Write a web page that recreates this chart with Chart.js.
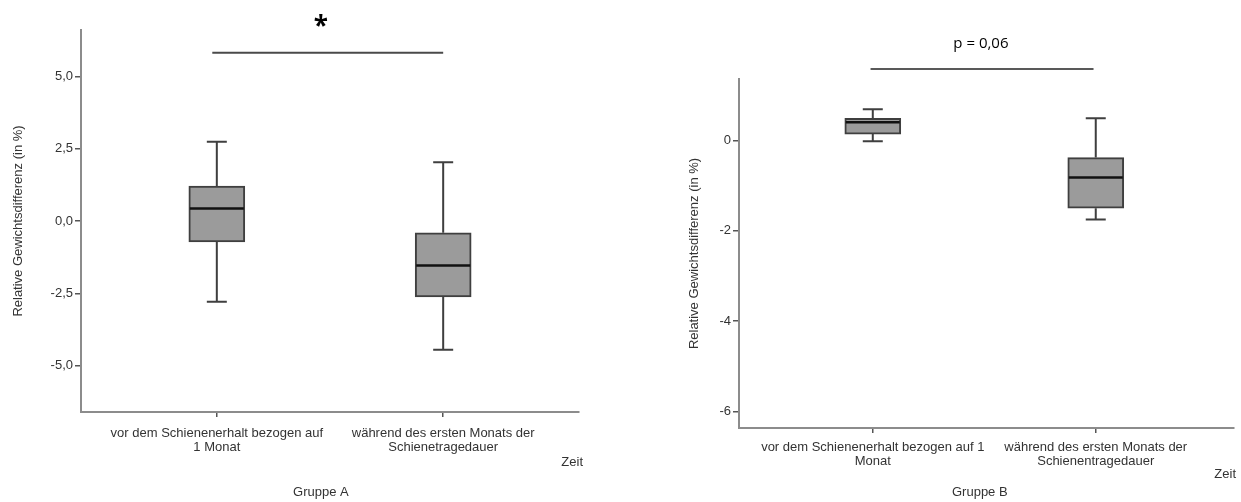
<!DOCTYPE html>
<html lang="de">
<head>
<meta charset="utf-8">
<title>Relative Gewichtsdifferenz – Gruppe A und B</title>
<script src="https://cdn.jsdelivr.net/npm/chart.js@4.4.1/dist/chart.umd.min.js"></script>
<style>
  html, body { margin: 0; padding: 0; background: #fff; }
  #wrap { position: relative; width: 1241px; height: 502px; overflow: hidden; }
  #wrap canvas { position: absolute; top: 0; }
  #chart-a { left: 0; }
  #chart-b { left: 620px; }
</style>
</head>
<body>
<div id="wrap">
  <canvas id="chart-a" width="620" height="502"></canvas>
  <canvas id="chart-b" width="621" height="502"></canvas>
</div>
<script>
(function () {
  // ===== DATA =====
  const LABELS_A = [['vor dem Schienenerhalt bezogen auf', '1 Monat'], ['während des ersten Monats der', 'Schienetragedauer']];
  const LABELS_B = [['vor dem Schienenerhalt bezogen auf 1', 'Monat'], ['während des ersten Monats der', 'Schienentragedauer']];

  // Group A box plot stats (relative weight difference, %)
  const MIN_A = [-2.79, -4.45];
  const Q1_A = [-0.72, -2.62];
  const MEDIAN_A = [0.43, -1.54];
  const Q3_A = [1.21, -0.41];
  const MAX_A = [2.74, 2.03];

  // Group B box plot stats
  const MIN_B = [-0.02, -1.75];
  const Q1_B = [0.14, -1.50];
  const MEDIAN_B = [0.40, -0.82];
  const Q3_B = [0.49, -0.38];
  const MAX_B = [0.69, 0.49];

  const TICKS_A = [-5, -2.5, 0, 2.5, 5];
  const TICKS_B = [-6, -4, -2, 0];

  const TEXT = '#333';
  const AXIS = '#8c8c8c';
  const TICK_MARK = '#555';
  const BOX_FILL = '#9b9b9b';
  const BOX_LINE = '#3f3f3f';
  const FONT = '"Liberation Sans", Arial, sans-serif';

  Chart.defaults.font.family = FONT;
  Chart.defaults.font.size = 13;
  Chart.defaults.color = TEXT;

  // Whiskers, caps and median line drawn on top of the floating bars
  const boxWhiskers = {
    id: 'boxWhiskers',
    afterDatasetsDraw(chart, args, opts) {
      const { ctx } = chart;
      const xs = chart.scales.x, ys = chart.scales.y;
      const meta = chart.getDatasetMeta(0);
      ctx.save();
      opts.min.forEach((lo, i) => {
        const cx = xs.getPixelForValue(i + 1);
        const half = meta.data[i].width / 2;
        const cap = opts.capWidth / 2;
        const yMin = ys.getPixelForValue(lo);
        const yMax = ys.getPixelForValue(opts.max[i]);
        ctx.strokeStyle = BOX_LINE;
        ctx.lineWidth = 2;
        ctx.beginPath();
        ctx.moveTo(cx, ys.getPixelForValue(opts.q3[i])); ctx.lineTo(cx, yMax);
        ctx.moveTo(cx, ys.getPixelForValue(opts.q1[i])); ctx.lineTo(cx, yMin);
        ctx.moveTo(cx - cap, yMax); ctx.lineTo(cx + cap, yMax);
        ctx.moveTo(cx - cap, yMin); ctx.lineTo(cx + cap, yMin);
        ctx.stroke();

        const ym = ys.getPixelForValue(opts.median[i]);
        ctx.strokeStyle = '#111';
        ctx.lineWidth = 2.5;
        ctx.beginPath();
        ctx.moveTo(cx - half + 1, ym); ctx.lineTo(cx + half - 1, ym);
        ctx.stroke();
      });
      ctx.restore();
    },
  };

  // Significance bracket over both boxes, the "Zeit" axis note and the group caption
  const extras = {
    id: 'extras',
    afterDraw(chart, args, opts) {
      const { ctx, chartArea } = chart;
      const xs = chart.scales.x, ys = chart.scales.y;
      const b = opts.bracket;
      const x1 = xs.getPixelForValue(b.from);
      const x2 = xs.getPixelForValue(b.to);
      const yb = ys.getPixelForValue(b.value);
      ctx.save();
      ctx.strokeStyle = b.color;
      ctx.lineWidth = b.width;
      ctx.beginPath();
      ctx.moveTo(x1, yb); ctx.lineTo(x2, yb);
      ctx.stroke();

      ctx.fillStyle = '#000';
      ctx.font = b.font;
      ctx.textAlign = 'center';
      ctx.textBaseline = 'middle';
      ctx.fillText(b.label, xs.getPixelForValue(b.labelAt), yb - b.gap);

      ctx.fillStyle = TEXT;
      ctx.font = '13px ' + FONT;
      ctx.textAlign = 'right';
      ctx.fillText('Zeit', chartArea.right + opts.zeitDx, chartArea.bottom + opts.zeitDy);

      ctx.textAlign = 'center';
      ctx.fillText(opts.group, xs.getPixelForValue(opts.groupAt), chart.height - 10);
      ctx.restore();
    },
  };

  function buildChart(canvasId, cfg) {
    const data = cfg.q1.map((v, i) => ({ x: i + 1, y: [v, cfg.q3[i]] }));
    return new Chart(document.getElementById(canvasId), {
      type: 'bar',
      data: {
        datasets: [{
          data,
          backgroundColor: BOX_FILL,
          borderColor: BOX_LINE,
          borderWidth: 2,
          borderSkipped: false,
          barThickness: 56,
        }],
      },
      options: {
        responsive: false,
        animation: false,
        events: [],
        layout: { padding: cfg.padding },
        plugins: {
          legend: { display: false },
          tooltip: { enabled: false },
          boxWhiskers: { min: cfg.min, q1: cfg.q1, median: cfg.median, q3: cfg.q3, max: cfg.max, capWidth: 20 },
          extras: { bracket: cfg.bracket, zeitDx: cfg.zeitDx, zeitDy: cfg.zeitDy, group: cfg.group, groupAt: cfg.groupAt },
        },
        scales: {
          x: {
            type: 'linear',
            min: 0.4,
            max: cfg.xMax,
            offset: false,
            afterFit: s => { s.height = cfg.xHeight; },
            afterBuildTicks: s => { s.ticks = [{ value: 1 }, { value: 2 }]; },
            border: { display: true, color: AXIS, width: 2 },
            grid: { offset: false, drawOnChartArea: false, drawTicks: true, tickLength: 5, color: TICK_MARK, lineWidth: 1.5 },
            ticks: {
              padding: cfg.xTickPad,
              maxRotation: 0,
              autoSkip: false,
              color: TEXT,
              font: { size: 13, lineHeight: 1.08 },
              callback: v => cfg.labels[v - 1],
            },
          },
          y: {
            type: 'linear',
            min: cfg.yMin,
            max: cfg.yMax,
            afterFit: s => { s.width = cfg.yWidth; },
            afterBuildTicks: s => { s.ticks = cfg.ticks.map(v => ({ value: v })); },
            border: { display: true, color: AXIS, width: 2 },
            grid: { drawOnChartArea: false, drawTicks: true, tickLength: 6, color: TICK_MARK, lineWidth: 1.5 },
            ticks: { padding: 2, color: TEXT, font: { size: 13 }, callback: cfg.fmt },
            title: {
              display: true,
              text: 'Relative Gewichtsdifferenz (in %)',
              color: TEXT,
              font: { size: 13 },
              padding: { top: cfg.yTitlePad, bottom: 0 },
            },
          },
        },
      },
      plugins: [boxWhiskers, extras],
    });
  }

  buildChart('chart-a', {
    labels: LABELS_A, group: 'Gruppe A', groupAt: 1.46,
    min: MIN_A, q1: Q1_A, median: MEDIAN_A, q3: Q3_A, max: MAX_A,
    ticks: TICKS_A, yMin: -6.6, yMax: 6.6, xMax: 2.6,
    fmt: v => v.toFixed(1).replace('.', ','),
    padding: { left: 0, right: 41, top: 30, bottom: 0 },
    yWidth: 81, yTitlePad: 11, xHeight: 90, xTickPad: 9,
    zeitDx: 4, zeitDy: 50,
    bracket: { from: 0.98, to: 2.0, labelAt: 1.46, value: 5.81, label: '*', gap: 25, color: '#4a4a4a', width: 2,
      font: 'bold 26px "Open Sans", "Liberation Sans", sans-serif' },
  });

  buildChart('chart-b', {
    labels: LABELS_B, group: 'Gruppe B', groupAt: 1.48,
    min: MIN_B, q1: Q1_B, median: MEDIAN_B, q3: Q3_B, max: MAX_B,
    ticks: TICKS_B, yMin: -6.37, yMax: 1.36, xMax: 2.62,
    fmt: v => String(v),
    padding: { left: 0, right: 7, top: 79, bottom: 0 },
    yWidth: 119, yTitlePad: 67, xHeight: 74, xTickPad: 7,
    zeitDx: 2, zeitDy: 46,
    bracket: { from: 0.99, to: 1.99, labelAt: 1.485, value: 1.58, label: 'p = 0,06', gap: 25, color: '#222', width: 1.5,
      font: '15px "Open Sans", "Liberation Sans", sans-serif' },
  });
})();
</script>
</body>
</html>
